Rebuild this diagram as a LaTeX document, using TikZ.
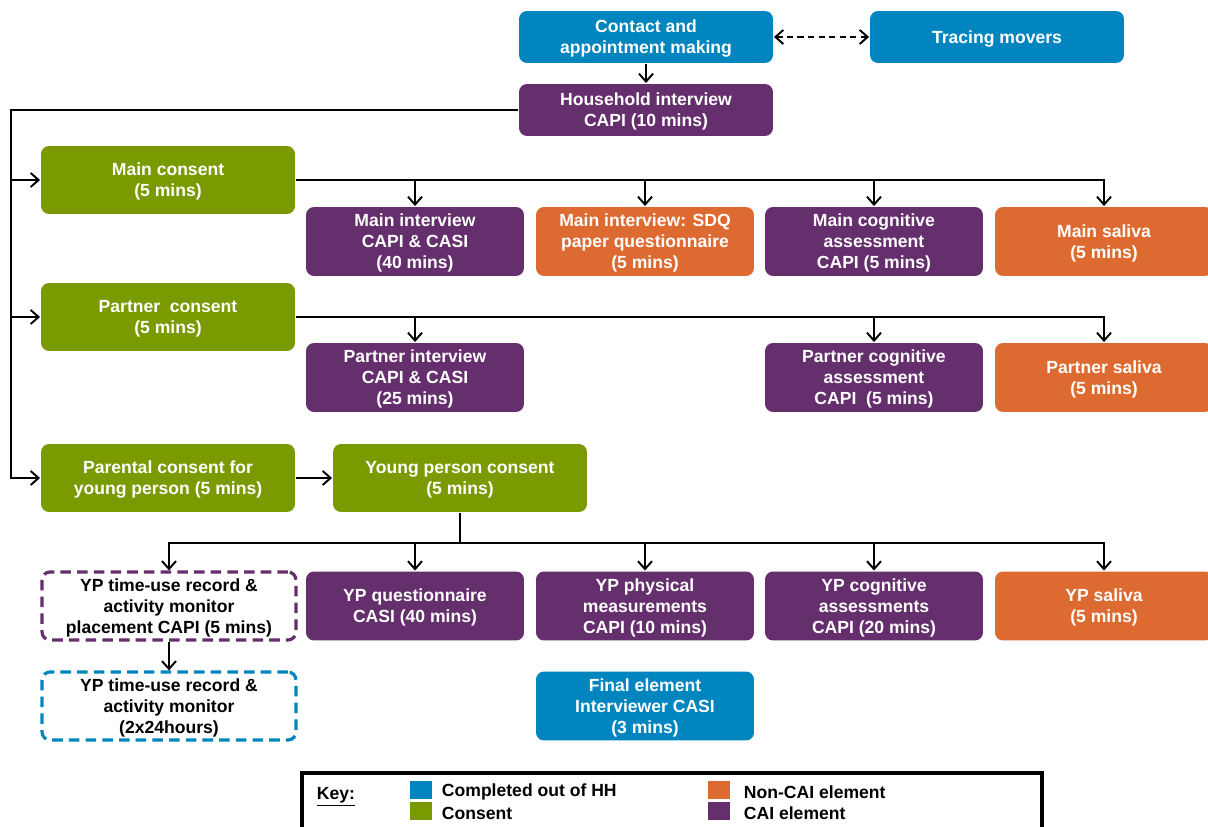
\documentclass[tikz,border=0pt]{standalone}
\usepackage{fontspec}
\setmainfont{Liberation Sans}
\usetikzlibrary{arrows.meta}
\definecolor{hhblue}{RGB}{0,133,191}
\definecolor{cgreen}{RGB}{122,154,1}
\definecolor{ncorange}{RGB}{221,106,49}
\definecolor{caipurple}{RGB}{101,46,108}

\begin{document}
\begin{tikzpicture}[x=0.02cm,y=-0.02cm,
    font=\fontsize{10}{12}\selectfont\bfseries,
    >={Straight Barb[length=4.5pt,width=8pt]},
    every path/.style={line width=1.1pt},
    box/.style={rounded corners=0.16cm,align=center,text=white,inner sep=0pt,text depth=-1.2pt},
    wide/.style={box,minimum width=5.08cm,minimum height=1.36cm},
    narrow/.style={box,minimum width=4.36cm,minimum height=1.38cm},
    short/.style={minimum height=1.04cm},
    outhh/.style={fill=hhblue},
    consent/.style={fill=cgreen},
    noncai/.style={fill=ncorange},
    cai/.style={fill=caipurple},
    dashbox/.style={text=black,line width=1.8pt,dash pattern=on 6pt off 3.5pt},
    keysq/.style={minimum width=0.44cm,minimum height=0.36cm,inner sep=0pt},
    keytext/.style={anchor=west,inner sep=0pt}]
  \useasboundingbox (0,0) rectangle (1208,827);
  %\draw[very thin,lightgray,step=0.5cm] (0,0) grid (1208,827);
  % top row
  \node[wide,short,outhh] (contact) at (646,37) {Contact and\\appointment making};
  \node[wide,short,outhh] (tracing) at (997,37) {Tracing movers};
  \node[wide,short,cai] (hhint) at (646,110) {Household interview\\CAPI (10 mins)};
  % main
  \node[wide,consent] (maincon) at (168,180) {Main consent\\(5 mins)};
  \node[narrow,cai] (mainint) at (415,241.5) {Main interview\\CAPI \& CASI\\(40 mins)};
  \node[narrow,noncai] (sdq) at (645,241.5) {Main interview: SDQ\\paper questionnaire\\(5 mins)};
  \node[narrow,cai] (maincog) at (874,241.5) {Main cognitive\\assessment\\CAPI (5 mins)};
  \node[narrow,noncai] (mainsal) at (1104,241.5) {Main saliva\\(5 mins)};
  % partner
  \node[wide,consent] (partcon) at (168,317) {Partner~ consent\\(5 mins)};
  \node[narrow,cai] (partint) at (415,377.5) {Partner interview\\CAPI \& CASI\\(25 mins)};
  \node[narrow,cai] (partcog) at (874,377.5) {Partner cognitive\\assessment\\CAPI~ (5 mins)};
  \node[narrow,noncai] (partsal) at (1104,377.5) {Partner saliva\\(5 mins)};
  % young person
  \node[wide,consent] (parcon) at (168,478) {Parental consent for\\young person (5 mins)};
  \node[wide,consent] (ypcon) at (460,478) {Young person consent\\(5 mins)};
  \node[wide,dashbox,draw=caipurple] (yptu) at (169,606) {YP time-use record \&\\activity monitor\\placement CAPI (5 mins)};
  \node[narrow,cai] (ypq) at (415,606) {YP questionnaire\\CASI (40 mins)};
  \node[narrow,cai] (ypphys) at (645,606) {YP physical\\measurements\\CAPI (10 mins)};
  \node[narrow,cai] (ypcog) at (874,606) {YP cognitive\\assessments\\CAPI (20 mins)};
  \node[narrow,noncai] (ypsal) at (1104,606) {YP saliva\\(5 mins)};
  \node[wide,dashbox,draw=hhblue] (yprec) at (169,706) {YP time-use record \&\\activity monitor\\(2x24hours)};
  \node[narrow,outhh] (final) at (645,706) {Final element\\Interviewer CASI\\(3 mins)};

  % connectors
  \draw[->] (contact) -- (hhint);
  \draw[<->,dash pattern=on 3.5pt off 2.5pt] (contact) -- (tracing);
  \coordinate (rail) at (11,110);
  \draw[->] (hhint.west) -- (rail) |- (parcon.west);
  \draw[->] (rail |- maincon.west) -- (maincon.west);
  \draw[->] (rail |- partcon.west) -- (partcon.west);
  \draw[->] (parcon) -- (ypcon);
  \draw[->] (maincon.east) -| (mainsal.north);
  \foreach \t in {mainint,sdq,maincog}
    \draw[->] (maincon.east -| \t.north) -- (\t.north);
  \draw[->] (partcon.east) -| (partsal.north);
  \foreach \t in {partint,partcog}
    \draw[->] (partcon.east -| \t.north) -- (\t.north);
  \coordinate (ypbus) at (460,543);
  \draw (ypcon) -- (ypbus);
  \draw[->] (ypbus) -| (yptu.north);
  \draw[->] (ypbus) -| (ypsal.north);
  \foreach \t in {ypq,ypphys,ypcog}
    \draw[->] (ypbus -| \t.north) -- (\t.north);
  \draw[->] (yptu) -- (yprec);

  % key
  \draw[line width=2.2pt] (302,773) rectangle (1042,870);
  \node[keytext] (keylbl) at (316,797) {\underline{Key:}};
  \node[keysq,outhh] (kblue) at (421,790) {};
  \node[keysq,consent] (kgreen) at (421,811) {};
  \node[keysq,noncai] (korange) at (719,790) {};
  \node[keysq,cai] (kpurple) at (719,811) {};
  \node[keytext] (kbluetxt) at (441,792) {Completed out of HH};
  \node[keytext] (kgreentxt) at (441,813) {Consent};
  \node[keytext] (korangetxt) at (743,792) {Non-CAI element};
  \node[keytext] (kpurpletxt) at (743,813) {CAI element};
\end{tikzpicture}
\end{document}
